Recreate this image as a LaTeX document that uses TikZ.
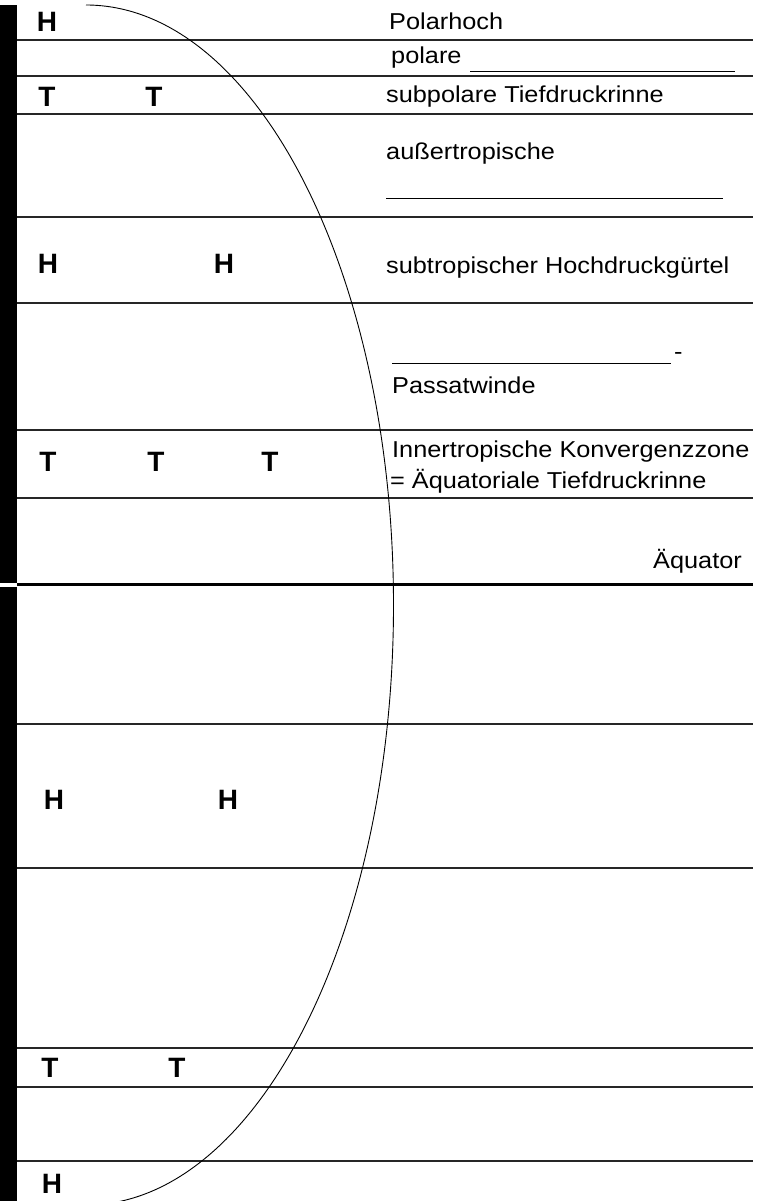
\documentclass[tikz,border=0pt]{standalone}
\usepackage{fontspec}
\setmainfont{Liberation Sans}
\newfontfamily\lbl[FakeStretch=1.1]{Liberation Sans}
\begin{document}
\begin{tikzpicture}[x=1pt,y=-1pt,
  zone/.style={line width=1.2pt,draw=black!85},
  eqline/.style={line width=3pt,draw=black},
  blank/.style={line width=1pt,draw=black},
  lab/.style={anchor=base west,inner sep=0pt,font=\lbl\fontsize{23}{26}\selectfont},
  pres/.style={anchor=center,inner sep=0pt,font=\bfseries\fontsize{28}{30}\selectfont}]
\useasboundingbox (0,0) rectangle (765,1201);
% black bar
\fill[black] (0,5) rectangle (17,1201);
\fill[white] (0,582.5) rectangle (17,586.5);
% zone lines
\foreach \yy in {40,76,114,217,303,430,498,724,868,1048,1087,1161}
  \draw[zone] (17,\yy) -- (753,\yy);
\draw[eqline] (17,584.5) -- (753,584.5);
% circulation arc
\begin{scope}
\clip (0,0) rectangle (765,1201);
\draw[line width=0.9pt] (86,5) arc[start angle=-90,end angle=90,x radius=307.5,y radius=600];
\end{scope}
% pressure symbols
\node[pres] (h1) at (47,22) {H};
\node[pres] (t1) at (47,97) {T};
\node[pres] (t2) at (154,97) {T};
\node[pres] (h2) at (48,264) {H};
\node[pres] (h3) at (224,264) {H};
\node[pres] (t3) at (48,462) {T};
\node[pres] (t4) at (156,462) {T};
\node[pres] (t5) at (270,462) {T};
\node[pres] (h4) at (54,800) {H};
\node[pres] (h5) at (228,800) {H};
\node[pres] (t6) at (50,1068) {T};
\node[pres] (t7) at (177,1068) {T};
\node[pres] (h6) at (52,1184) {H};
% labels
\node[lab] (l1) at (389,30) {Polarhoch};
\node[lab] (l2) at (391,64) {polare};
\draw[blank] (470,72) -- (735,72);
\node[lab] (l3) at (386,103) {subpolare Tiefdruckrinne};
\node[lab] (l4) at (386,160) {außertropische};
\draw[blank] (386,198) -- (723,198);
\node[lab] (l5) at (386,273) {subtropischer Hochdruckgürtel};
\draw[blank] (392,363) -- (671,363);
\node[lab] (l6) at (674,359) {-};
\node[lab] (l7) at (392,393) {Passatwinde};
\node[lab] (l8) at (392,457) {Innertropische Konvergenzzone};
\node[lab] (l9) at (390,488) {= Äquatoriale Tiefdruckrinne};
\node[lab] (l10) at (653,568) {Äquator};
\end{tikzpicture}
\end{document}
